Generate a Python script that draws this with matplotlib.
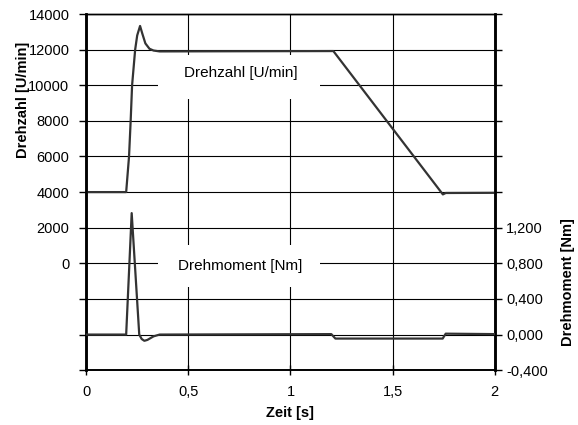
import numpy as np
import matplotlib
matplotlib.use("Agg")
import matplotlib.pyplot as plt
from matplotlib.patches import Rectangle

# Schrift wie im Original (Arial-aehnlich)
plt.rcParams['font.family'] = ['Liberation Sans', 'DejaVu Sans']

# ---------------- Daten ----------------
zeit_n = [0.0, 0.196, 0.21, 0.218, 0.225, 0.24, 0.25, 0.264, 0.275, 0.29,
          0.31, 0.33, 0.36, 1.21, 1.746, 1.76, 2.0]
drehzahl = [4000, 4000, 6000, 8000, 10000, 12000, 12800, 13330, 12900, 12350,
            12050, 11950, 11900, 11920, 3870, 3950, 3960]

zeit_m = [0.0, 0.196, 0.223, 0.26, 0.272, 0.285, 0.30, 0.33, 0.36,
          1.20, 1.22, 1.745, 1.76, 2.0]
drehmoment = [0.0, 0.0, 1.364, 0.0, -0.05, -0.07, -0.06, -0.02, 0.0,
              0.005, -0.045, -0.045, 0.01, 0.005]

x_ticks = [0, 0.5, 1, 1.5, 2]
x_labels = ["0", "0,5", "1", "1,5", "2"]
n_ticks = list(range(-6000, 14001, 2000))
m_ticks = [-0.4, 0.0, 0.4, 0.8, 1.2, 1.6, 2.0, 2.4, 2.8, 3.2, 3.6]

# ---------------- Zeichnen ----------------
fig = plt.figure(figsize=(5.78, 4.25), dpi=100)
ax = fig.add_axes([0.149, 0.129, 0.707, 0.838])
ax2 = ax.twinx()

farbe = "#333333"
ax.plot(zeit_n, drehzahl, color=farbe, lw=1.6, zorder=3)
ax2.plot(zeit_m, drehmoment, color=farbe, lw=1.6, zorder=3)

ax.set_xlim(0, 2)
ax.set_ylim(-6000, 14000)
ax2.set_ylim(-0.4, 3.6)

# Gitter
ax.set_xticks(x_ticks)
ax.set_xticklabels(x_labels, fontsize=10.5)
ax.set_yticks(n_ticks)
ax.set_yticklabels([str(v) if v >= 0 else "" for v in n_ticks], fontsize=10.5)
ax.grid(True, color="black", lw=0.8)
ax.set_axisbelow(True)

ax2.set_yticks(m_ticks)
ax2.set_yticklabels([("%.3f" % v).replace(".", ",") if v <= 1.2 else "" for v in m_ticks],
                    fontsize=10.5)

ax.tick_params(axis="x", direction="inout", length=7, width=1, pad=7)
ax.tick_params(axis="y", direction="out", length=5, width=1, pad=7)
ax2.tick_params(axis="y", direction="out", length=5, width=1, pad=3)

for a in (ax, ax2):
    a.spines["left"].set_linewidth(1.8)
    a.spines["right"].set_linewidth(1.8)
    a.spines["bottom"].set_linewidth(1.2)
    a.spines["top"].set_linewidth(1.0)

# Achsenbeschriftungen
ax.set_xlabel("Zeit [s]", fontsize=10.5, fontweight="bold")
ax.xaxis.set_label_coords(0.5, -0.1)
ax.set_ylabel("Drehzahl [U/min]", fontsize=10.5, fontweight="bold")
ax.yaxis.set_label_coords(-0.137, 0.76)
ax2.set_ylabel("Drehmoment [Nm]", fontsize=10.5, fontweight="bold")
ax2.yaxis.set_label_coords(1.161, 0.247)

# Beschriftungen der Kurven mit weissem Kasten
ax.add_patch(Rectangle((0.352, 9225), 0.792, 2470, fc="white", ec="none", zorder=2))
ax.add_patch(Rectangle((0.352, -1337), 0.792, 2360, fc="white", ec="none", zorder=2))
ax.text(0.755, 10700, "Drehzahl [U/min]", fontsize=11, ha="center", va="center", zorder=2.5)
ax.text(0.755, -150, "Drehmoment [Nm]", fontsize=11, ha="center", va="center", zorder=2.5)

fig.savefig("out.png", dpi=100)
